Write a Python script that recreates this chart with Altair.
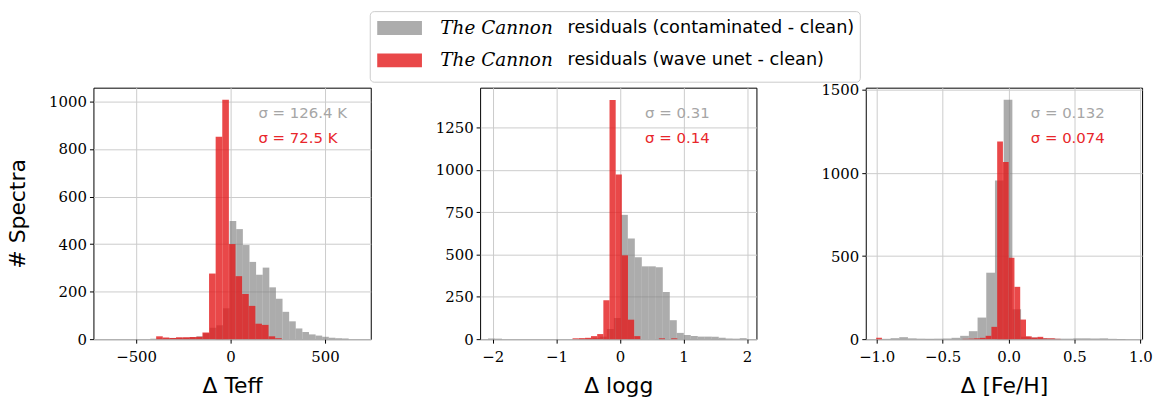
import altair as alt
import pandas as pd

# ---------------- data (histogram counts) ----------------
teff_gray_start, teff_gray_width = -425, 35
teff_gray_counts = [2, 3, 4, 5, 5, 6, 8, 12, 25, 48, 58, 130, 497, 463, 396, 325, 271,
                    301, 218, 170, 115, 75, 45, 30, 20, 15, 10, 6, 4, 3]
teff_red_start, teff_red_width = -394, 35
teff_red_counts = [12, 7, 5, 8, 8, 9, 10, 28, 276, 852, 1007, 400, 265, 190, 140, 65, 60, 12, 4]

logg_gray_start, logg_gray_width = -2.076, 0.11
logg_gray_counts = [4, 3, 0, 0, 0, 0, 0, 0, 0, 0, 0, 0, 0, 2, 4, 8, 15, 60, 125, 734, 595,
                    483, 430, 430, 425, 278, 112, 37, 25, 18, 15, 15, 14, 8, 4, 3, 6]
logg_red_start, logg_red_width = -0.746, 0.097
logg_red_counts = [5, 6, 8, 18, 30, 230, 1412, 972, 495, 115, 18, 0, 0, 0, 5, 0, 5]

feh_gray_start, feh_gray_width = -0.961, 0.066
feh_gray_counts = [2, 6, 12, 5, 3, 3, 3, 4, 8, 20, 48, 130, 400, 955, 1441, 180, 15, 10, 6,
                   4, 3, 3, 5, 5, 4, 5, 2, 1]
feh_red_start, feh_red_width = -1.004, 0.0437
feh_red_counts = [8, 0, 0, 0, 0, 0, 0, 0, 0, 0, 0, 0, 0, 0, 0, 2, 3, 5, 8, 20, 74, 1190,
                  1066, 490, 315, 118, 17, 10, 14, 5, 5, 2]

sigma_gray = ["σ = 126.4 K", "σ = 0.31", "σ = 0.132"]
sigma_red = ["σ = 72.5 K", "σ = 0.14", "σ = 0.074"]
x_titles = ["Δ Teff", "Δ logg", "Δ [Fe/H]"]
y_title = "# Spectra"
legend_italic = ["The Cannon", "The Cannon"]
legend_rest = ["residuals (contaminated - clean)", "residuals (wave unet - clean)"]

GRAY = "#808080"
RED = "#e41a1c"
H = 253
LABEL_FONT = "DejaVu Serif"


def hist_df(start, width, counts):
    rows = []
    for i, c in enumerate(counts):
        if c > 0:
            rows.append({"x0": start + i * width, "x1": start + (i + 1) * width, "count": c})
    return pd.DataFrame(rows)


dummy = pd.DataFrame({"d": [0]})


def panel(gray, red, xdom, ydom, xvals, yvals, xfmt, xtitle, sig_g, sig_r, width,
          ytitle=None, extra=()):
    common = dict(labelFont=LABEL_FONT, labelFontSize=15, labelColor="black",
                  titleFont="DejaVu Sans", titleFontSize=22, titleFontWeight="normal",
                  titleColor="black", tickColor="black", tickSize=4, domain=False,
                  grid=True, gridColor="#cccccc", gridWidth=1)
    xaxis = dict(values=xvals, title=xtitle, format=xfmt, labelPadding=6, titlePadding=12,
                 **common)
    yaxis = dict(values=yvals, format="d", labelPadding=3, **common)
    if ytitle:
        yaxis.update(title=ytitle, minExtent=50, maxExtent=50, titlePadding=14)
    else:
        yaxis["title"] = None
    x = alt.X("x0:Q", scale=alt.Scale(domain=xdom, nice=False, zero=False), axis=alt.Axis(**xaxis))
    x2 = alt.X2("x1:Q")
    y = alt.Y("count:Q", scale=alt.Scale(domain=ydom, nice=False), axis=alt.Axis(**yaxis))
    g = alt.Chart(gray).mark_rect(color=GRAY, opacity=0.65).encode(x=x, x2=x2, y=y, y2=alt.datum(0))
    r = alt.Chart(red).mark_rect(color=RED, opacity=0.8).encode(x=x, x2=x2, y=y, y2=alt.datum(0))
    tg = alt.Chart(dummy).mark_text(align="left", baseline="middle", font="DejaVu Sans",
                                    fontSize=15, color="#a6a6a6", text=sig_g).encode(
        x=alt.value(166), y=alt.value(26))
    tr = alt.Chart(dummy).mark_text(align="left", baseline="middle", font="DejaVu Sans",
                                    fontSize=15, color="#e8262b", text=sig_r).encode(
        x=alt.value(166), y=alt.value(51))
    return alt.layer(g, r, tg, tr, *extra).properties(width=width, height=H)


# manual legend (placed relative to the middle panel)
leg_box = alt.Chart(dummy).mark_rect(fill="white", stroke="#cccccc", strokeWidth=1,
                                     cornerRadius=4).encode(
    x=alt.value(-110.5), x2=alt.value(382.5), y=alt.value(-76.5), y2=alt.value(-5.5))
leg_sw1 = alt.Chart(dummy).mark_rect(color=GRAY, opacity=0.65).encode(
    x=alt.value(-103.5), x2=alt.value(-58.5), y=alt.value(-67), y2=alt.value(-53))
leg_sw2 = alt.Chart(dummy).mark_rect(color=RED, opacity=0.8).encode(
    x=alt.value(-103.5), x2=alt.value(-58.5), y=alt.value(-34.5), y2=alt.value(-20.5))
leg_layers = [leg_box, leg_sw1, leg_sw2]
for i, yy in enumerate([-60, -27.5]):
    leg_layers.append(alt.Chart(dummy).mark_text(
        align="left", baseline="middle", font="DejaVu Serif", fontStyle="italic",
        fontSize=18.5, color="black", text=legend_italic[i]).encode(
        x=alt.value(-40), y=alt.value(yy)))
    leg_layers.append(alt.Chart(dummy).mark_text(
        align="left", baseline="middle", font="DejaVu Sans",
        fontSize=17.8, color="black", text=legend_rest[i]).encode(
        x=alt.value(88), y=alt.value(yy)))

p1 = panel(hist_df(teff_gray_start, teff_gray_width, teff_gray_counts),
           hist_df(teff_red_start, teff_red_width, teff_red_counts),
           [-726, 742], [0, 1058], [-500, 0, 500], [0, 200, 400, 600, 800, 1000],
           "d", x_titles[0], sigma_gray[0], sigma_red[0], 279, ytitle=y_title)
p2 = panel(hist_df(logg_gray_start, logg_gray_width, logg_gray_counts),
           hist_df(logg_red_start, logg_red_width, logg_red_counts),
           [-2.2, 2.147], [0, 1485], [-2, -1, 0, 1, 2], [0, 250, 500, 750, 1000, 1250],
           "d", x_titles[1], sigma_gray[1], sigma_red[1], 278, extra=leg_layers)
p3 = panel(hist_df(feh_gray_start, feh_gray_width, feh_gray_counts),
           hist_df(feh_red_start, feh_red_width, feh_red_counts),
           [-1.083, 1.013], [0, 1514], [-1.0, -0.5, 0.0, 0.5, 1.0], [0, 500, 1000, 1500],
           ".1f", x_titles[2], sigma_gray[2], sigma_red[2], 278)

chart = alt.hconcat(p1, p2, p3, spacing=110, bounds="flush").properties(
    padding={"left": 6, "top": 9, "right": 5, "bottom": 0}
).configure_view(stroke="black", strokeWidth=1)

chart.save("out.html", embed_options={"renderer": "svg", "actions": False})
